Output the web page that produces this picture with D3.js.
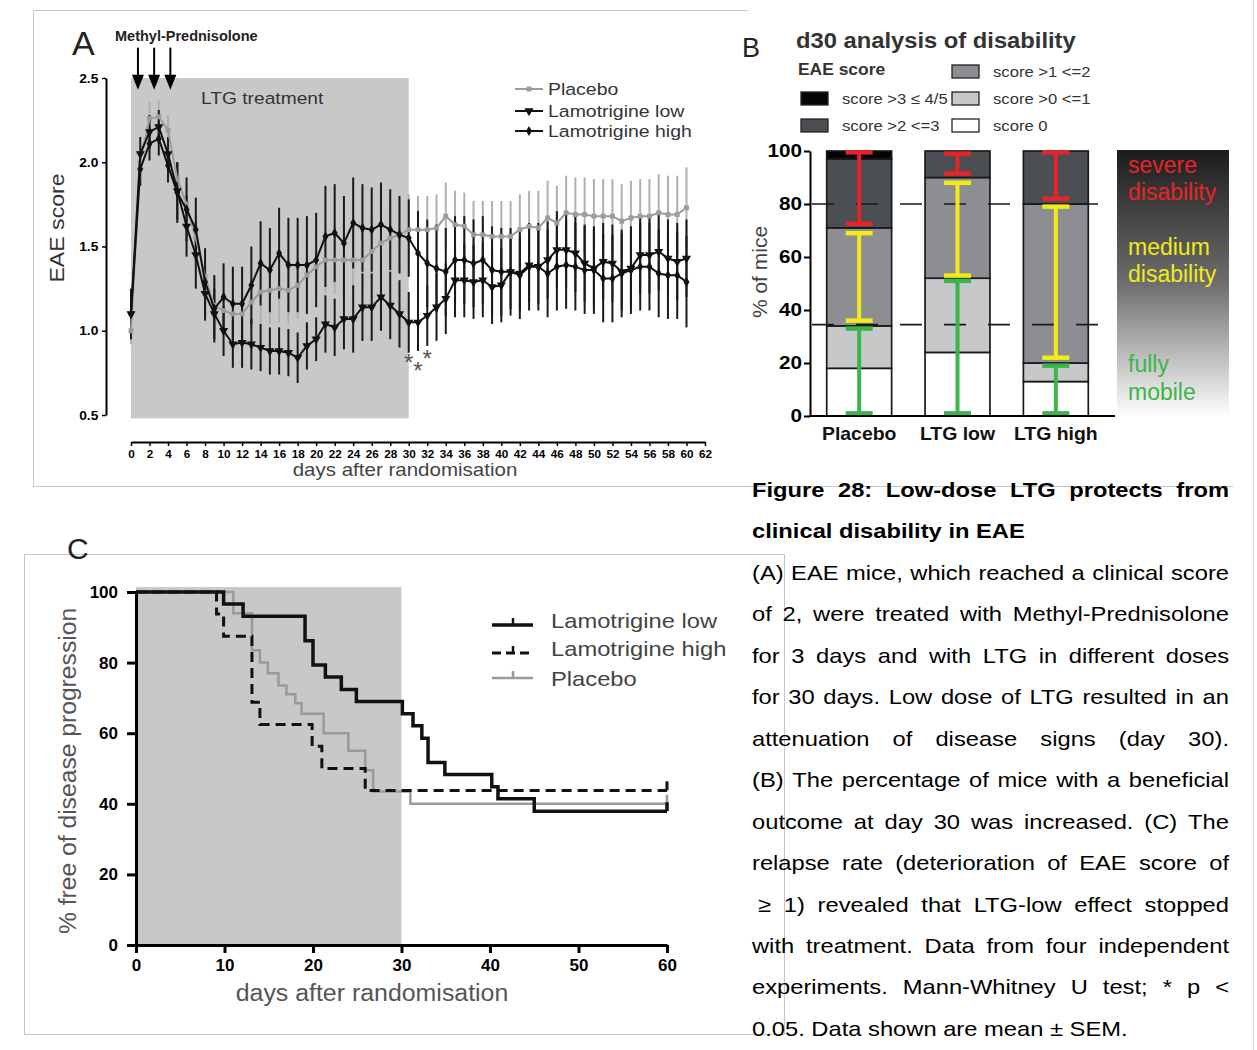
<!DOCTYPE html>
<html>
<head>
<meta charset="utf-8">
<script src="https://cdnjs.cloudflare.com/ajax/libs/d3/7.8.5/d3.min.js"></script>
<style>
body { margin: 0; background: #fff; }
svg { display: block; font-family: "Liberation Sans", Arial, Helvetica, sans-serif; }
</style>
</head>
<body>
<svg id="fig" width="1257" height="1050"></svg>
<script>
// ---------- panel A: mean EAE score per day ----------
var daysA = [0,1,2,3,4,5,6,7,8,9,10,11,12,13,14,15,16,17,18,19,20,21,22,23,24,25,26,27,28,29,30,
             31,32,33,34,35,36,37,38,39,40,41,42,43,44,45,46,47,48,49,50,51,52,53,54,55,56,57,58,59,60];
var placeboMean = [1.00,2.00,2.26,2.27,2.19,1.90,1.75,1.55,1.32,1.15,1.12,1.10,1.10,1.17,1.23,1.24,1.25,1.24,1.27,1.33,1.38,
                   1.42,1.42,1.42,1.42,1.42,1.47,1.52,1.55,1.57,1.60,1.60,1.60,1.61,1.68,1.63,1.62,1.57,1.57,1.56,1.56,
                   1.56,1.60,1.62,1.61,1.67,1.64,1.70,1.69,1.69,1.68,1.68,1.68,1.65,1.67,1.68,1.68,1.70,1.69,1.69,1.73];
var placeboErr  = [0.08,0.07,0.10,0.10,0.09,0.10,0.12,0.14,0.15,0.16,0.16,0.17,0.17,0.18,0.19,0.20,0.20,0.20,0.20,0.20,0.20,
                   0.20,0.20,0.20,0.20,0.20,0.21,0.21,0.21,0.21,0.21,0.20,0.20,0.20,0.20,0.20,0.20,0.20,0.20,0.21,0.21,
                   0.21,0.21,0.21,0.22,0.22,0.22,0.22,0.22,0.22,0.22,0.22,0.22,0.22,0.22,0.22,0.22,0.23,0.23,0.23,0.24];
var lowMean = [1.10,2.05,2.18,2.21,2.05,1.83,1.62,1.45,1.22,1.10,1.00,0.92,0.93,0.92,0.90,0.88,0.88,0.87,0.84,0.91,0.95,
               1.04,1.02,1.07,1.07,1.14,1.14,1.20,1.15,1.10,1.05,1.05,1.09,1.14,1.19,1.30,1.30,1.29,1.30,1.26,1.27,
               1.35,1.34,1.39,1.38,1.42,1.48,1.48,1.46,1.40,1.37,1.41,1.40,1.35,1.37,1.45,1.45,1.47,1.43,1.41,1.43];
var lowErr  = [0.12,0.10,0.10,0.10,0.10,0.17,0.18,0.20,0.16,0.15,0.15,0.14,0.15,0.15,0.14,0.14,0.14,0.14,0.15,0.14,0.13,
               0.17,0.17,0.18,0.20,0.20,0.20,0.20,0.20,0.20,0.18,0.17,0.18,0.20,0.21,0.22,0.22,0.22,0.22,0.22,0.22,
               0.22,0.22,0.22,0.22,0.23,0.23,0.23,0.23,0.23,0.23,0.23,0.23,0.23,0.23,0.23,0.23,0.23,0.23,0.23,0.23];
var highMean = [1.10,1.96,2.11,2.14,1.98,1.82,1.72,1.60,1.29,1.13,1.20,1.16,1.16,1.27,1.40,1.36,1.46,1.39,1.39,1.39,1.42,
                1.56,1.58,1.52,1.64,1.61,1.60,1.63,1.60,1.57,1.55,1.46,1.40,1.37,1.35,1.42,1.42,1.40,1.42,1.36,1.35,
                1.35,1.33,1.38,1.38,1.34,1.38,1.39,1.38,1.36,1.36,1.31,1.31,1.34,1.36,1.38,1.38,1.34,1.33,1.33,1.29];
var highErr  = [0.15,0.10,0.10,0.10,0.10,0.18,0.19,0.19,0.20,0.20,0.20,0.22,0.22,0.23,0.25,0.25,0.27,0.28,0.28,0.29,0.28,
                0.30,0.29,0.28,0.27,0.26,0.25,0.25,0.24,0.23,0.23,0.25,0.26,0.26,0.26,0.26,0.26,0.26,0.26,0.26,0.26,
                0.26,0.26,0.26,0.26,0.26,0.26,0.26,0.26,0.26,0.26,0.26,0.26,0.26,0.26,0.26,0.26,0.26,0.26,0.26,0.27];
var xTicksA = [0,2,4,6,8,10,12,14,16,18,20,22,24,26,28,30,32,34,36,38,40,42,44,46,48,50,52,54,56,58,60,62];
var yTicksA = [0.5,1.0,1.5,2.0,2.5];
var arrowDays = [0.75, 2.5, 4.25];
var starDays = [30, 31, 32];
var starScores = [0.84, 0.79, 0.86];

// ---------- panel B: d30 disability, % of mice ----------
var groupsB = ['Placebo', 'LTG low', 'LTG high'];
var score0   = [18, 24, 13];
var score0to1 = [16, 28, 7];
var score1to2 = [37, 38, 60];
var score2to3 = [26, 10, 20];
var score3up  = [3, 0, 0];
var legendB = ['score 0', 'score >0 <=1', 'score >1 <=2', 'score >2 <=3', 'score >3 \u2264 4/5'];
var greenLo = [1, 1, 1],       greenHi = [33, 51, 19];
var yellowLo = [36, 53, 22],   yellowHi = [69, 88, 79];
var redLo = [72.5, 91.5, 82],  redHi = [99.5, 99, 99.5];
var refLinesB = [80, 34.5];
var yTicksB = [0, 20, 40, 60, 80, 100];

// ---------- panel C: Kaplan-Meier, % free of progression ----------
var kmLowDay  = [0, 9.9, 12.1, 19.1, 20.0, 21.4, 23.2, 24.9, 30.1, 31.3, 32.3, 33.0, 34.9, 40.2, 40.9, 45.0, 60];
var kmLowPct  = [100, 96.6, 93.1, 86.2, 79.3, 75.9, 72.4, 69.0, 65.5, 62.1, 58.6, 51.7, 48.3, 44.8, 41.4, 37.9, 37.9];
var kmHighDay = [0, 9.1, 9.9, 13.1, 14.0, 19.9, 21.0, 25.9, 60];
var kmHighPct = [100, 93.8, 87.5, 68.8, 62.5, 56.3, 50.0, 43.8, 43.8];
var kmPlacDay = [0, 11.0, 13.1, 14.0, 14.9, 16.1, 17.0, 18.0, 18.7, 21.2, 24.0, 25.9, 26.8, 31.0, 60];
var kmPlacPct = [100, 94, 83.5, 80, 77, 73.5, 71, 68.5, 65.5, 60, 55, 49.5, 43.5, 40, 40];
var xTicksC = [0, 10, 20, 30, 40, 50, 60];
var yTicksC = [0, 20, 40, 60, 80, 100];

// ---------- caption ----------
var captionLines = [
    'Figure 28: Low-dose LTG protects from',
    'clinical disability in EAE',
    '(A) EAE mice, which reached a clinical score',
    'of 2, were treated with Methyl-Prednisolone',
    'for 3 days and with LTG in different doses',
    'for 30 days. Low dose of LTG resulted in an',
    'attenuation of disease signs (day 30).',
    '(B) The percentage of mice with a beneficial',
    'outcome at day 30 was increased. (C) The',
    'relapse rate (deterioration of EAE score of',
    '\u2265 1) revealed that LTG-low effect stopped',
    'with treatment. Data from four independent',
    'experiments. Mann-Whitney U test; * p <',
    '0.05. Data shown are mean \u00b1 SEM.'
];

var svg = d3.select('#fig');
svg.append('rect').attr('width', 1257).attr('height', 1050).attr('fill', '#fff');

// text helper: the source picture is slightly wider than it is tall, so texts get a horizontal stretch
function label(parent, x, y, str, o) {
    o = o || {};
    var tf = 'translate(' + x + ',' + y + ')';
    if (o.rotate) tf += ' rotate(' + o.rotate + ')';
    if (o.sx && o.sx !== 1) tf += ' scale(' + o.sx + ',1)';
    return parent.append('text')
        .attr('transform', tf)
        .attr('text-anchor', o.anchor || 'start')
        .attr('fill', o.fill || '#000')
        .style('font-size', (o.size || 14) + 'px')
        .style('font-weight', o.bold ? 'bold' : 'normal')
        .text(str);
}

function styleAxis(g, lineW, tickW, fontSize, sx) {
    g.select('.domain').attr('stroke', '#000').attr('stroke-width', lineW);
    g.selectAll('.tick line').attr('stroke', '#000').attr('stroke-width', tickW);
    g.selectAll('.tick text')
        .attr('fill', '#000')
        .style('font-size', fontSize + 'px')
        .style('font-weight', 'bold')
        .style('font-family', '"Liberation Sans", Arial, sans-serif')
        .attr('transform', 'scale(' + sx + ',1)');
}

// ---------- frames ----------
var frames = svg.append('g').attr('fill', 'none').attr('stroke', '#c6c6c6').attr('stroke-width', 1);
frames.append('path').attr('d', 'M33.5,487 V10.5 H748');
frames.append('line').attr('x1', 33).attr('x2', 1233).attr('y1', 486.5).attr('y2', 486.5);
frames.append('rect').attr('x', 24.5).attr('y', 554.5).attr('width', 760).attr('height', 480);
frames.append('line').attr('x1', 1253.5).attr('x2', 1253.5).attr('y1', 0).attr('y2', 1050).attr('stroke', '#dcdcdc');

// =====================================================================
// Panel A
// =====================================================================
var xA = d3.scaleLinear().domain([0, 62]).range([131, 705]);
var yA = d3.scaleLinear().domain([0.5, 2.5]).range([415, 78]);
var gA = svg.append('g');

gA.append('rect')
    .attr('x', xA(0)).attr('y', yA(2.5))
    .attr('width', xA(30) - xA(0)).attr('height', yA(0.48) - yA(2.5))
    .attr('fill', '#c8c8c8');

var yAxisA = gA.append('g').attr('transform', 'translate(106,0)')
    .call(d3.axisLeft(yA).tickValues(yTicksA).tickFormat(d3.format('.1f')).tickSize(4).tickSizeOuter(0).tickPadding(3));
styleAxis(yAxisA, 2, 1.5, 12.5, 1.1);

var xAxisA = gA.append('g').attr('transform', 'translate(0,442)')
    .call(d3.axisBottom(xA).tickValues(xTicksA).tickSize(4).tickSizeOuter(0).tickPadding(4));
styleAxis(xAxisA, 2, 1.5, 11.5, 1.02);

var seriesA = [
    {name: 'Placebo', mean: placeboMean, err: placeboErr, color: '#9c9c9c', barColor: '#b0b0b0', sym: d3.symbolSquare, size: 24, rot: 0},
    {name: 'Lamotrigine low', mean: lowMean, err: lowErr, color: '#111', barColor: '#1a1a1a', sym: d3.symbolTriangle, size: 36, rot: 180},
    {name: 'Lamotrigine high', mean: highMean, err: highErr, color: '#111', barColor: '#1a1a1a', sym: d3.symbolDiamond, size: 30, rot: 0}
];

seriesA.forEach(function(s) {
    var pts = daysA.map(function(d, i) { return {day: d, v: s.mean[i], e: s.err[i]}; });
    gA.append('g').selectAll('line').data(pts).enter().append('line')
        .attr('x1', function(d) { return xA(d.day); })
        .attr('x2', function(d) { return xA(d.day); })
        .attr('y1', function(d) { return yA(d.v - d.e); })
        .attr('y2', function(d) { return yA(d.v + d.e); })
        .attr('stroke', s.barColor).attr('stroke-width', 2);
});

var lineA = d3.line().x(function(d) { return xA(d.day); }).y(function(d) { return yA(d.v); });
seriesA.forEach(function(s) {
    var pts = daysA.map(function(d, i) { return {day: d, v: s.mean[i]}; });
    gA.append('path').datum(pts)
        .attr('d', lineA).attr('fill', 'none')
        .attr('stroke', s.color).attr('stroke-width', 2);
    gA.append('g').selectAll('path').data(pts).enter().append('path')
        .attr('d', d3.symbol().type(s.sym).size(s.size))
        .attr('transform', function(d) {
            return 'translate(' + [xA(d.day), yA(d.v)] + ') rotate(' + s.rot + ')';
        })
        .attr('fill', s.color);
});

// methyl-prednisolone arrows
arrowDays.forEach(function(d) {
    var x = xA(d);
    gA.append('line').attr('x1', x).attr('x2', x).attr('y1', yA(2.68)).attr('y2', yA(2.5))
        .attr('stroke', '#000').attr('stroke-width', 2);
    gA.append('path')
        .attr('d', 'M' + (x - 6) + ',' + yA(2.52) + 'L' + (x + 6) + ',' + yA(2.52) + 'L' + x + ',' + yA(2.43) + 'Z')
        .attr('fill', '#000');
});

// significance stars
starDays.forEach(function(d, i) {
    label(gA, xA(d), yA(starScores[i]) + 13, '*', {size: 24, anchor: 'middle', fill: '#555'});
});

label(gA, 72, 55, 'A', {size: 34, fill: '#222'});
label(gA, 115, 41, 'Methyl-Prednisolone', {size: 14.5, bold: true, fill: '#222'});
label(gA, 201, 104, 'LTG treatment', {size: 17, sx: 1.13, fill: '#333'});
label(gA, 64, 228, 'EAE score', {size: 21, sx: 1.1, rotate: -90, anchor: 'middle', fill: '#333'});
label(gA, 405, 476, 'days after randomisation', {size: 18, sx: 1.14, anchor: 'middle', fill: '#444'});

// legend A
var legA = gA.append('g');
seriesA.forEach(function(s, i) {
    var y = [89, 111, 131][i];
    legA.append('line').attr('x1', 515).attr('x2', 543).attr('y1', y).attr('y2', y)
        .attr('stroke', s.color).attr('stroke-width', 2);
    legA.append('path').attr('d', d3.symbol().type(s.sym).size(s.size))
        .attr('transform', 'translate(529,' + y + ') rotate(' + s.rot + ')')
        .attr('fill', s.color);
    label(legA, 548, y + 6, s.name, {size: 16.5, sx: 1.18, fill: '#333'});
});

// =====================================================================
// Panel B
// =====================================================================
var yB = d3.scaleLinear().domain([0, 100]).range([416, 151]);
var xB = d3.scaleBand().domain(groupsB).range([810, 1105]).paddingInner(0.34).paddingOuter(0.17);
var gB = svg.append('g');
var segColors = ['#ffffff', '#c6c8ca', '#8d8e92', '#4b4e53', '#050505'];
var segKeys = ['s0', 's1', 's2', 's3', 's4'];

var tableB = groupsB.map(function(g, i) {
    return {group: g, s0: score0[i], s1: score0to1[i], s2: score1to2[i], s3: score2to3[i], s4: score3up[i]};
});
var stackedB = d3.stack().keys(segKeys)(tableB);

stackedB.forEach(function(layer, k) {
    gB.append('g').selectAll('rect').data(layer).enter().append('rect')
        .attr('x', function(d) { return xB(d.data.group); })
        .attr('width', xB.bandwidth())
        .attr('y', function(d) { return yB(d[1]); })
        .attr('height', function(d) { return yB(d[0]) - yB(d[1]); })
        .attr('fill', segColors[k])
        .attr('stroke', '#1a1a1a').attr('stroke-width', function(d) { return d[1] > d[0] ? 1.7 : 0; });
});

// dashed reference lines
refLinesB.forEach(function(v) {
    gB.append('line').attr('x1', 812).attr('x2', 1116).attr('y1', yB(v)).attr('y2', yB(v))
        .attr('stroke', '#1a1a1a').attr('stroke-width', 1.6).attr('stroke-dasharray', '22 22');
});

// coloured range brackets
var brackets = [
    {lo: greenLo, hi: greenHi, color: '#39b54a'},
    {lo: yellowLo, hi: yellowHi, color: '#f3ea1a'},
    {lo: redLo, hi: redHi, color: '#e8242a'}
];
brackets.forEach(function(b) {
    groupsB.forEach(function(g, i) {
        var cx = xB(g) + xB.bandwidth() / 2;
        var bg = gB.append('g').attr('stroke', b.color);
        bg.append('line').attr('x1', cx).attr('x2', cx).attr('y1', yB(b.lo[i])).attr('y2', yB(b.hi[i]))
            .attr('stroke-width', 4);
        [b.lo[i], b.hi[i]].forEach(function(v) {
            bg.append('line').attr('x1', cx - 13.5).attr('x2', cx + 13.5).attr('y1', yB(v)).attr('y2', yB(v))
                .attr('stroke-width', 4.5);
        });
    });
});

var yAxisB = gB.append('g').attr('transform', 'translate(810,0)')
    .call(d3.axisLeft(yB).tickValues(yTicksB).tickSize(6).tickSizeOuter(0).tickPadding(1));
styleAxis(yAxisB, 2, 2, 18, 1.15);
gB.append('line').attr('x1', 809).attr('x2', 1115).attr('y1', yB(0)).attr('y2', yB(0))
    .attr('stroke', '#000').attr('stroke-width', 2);

groupsB.forEach(function(g) {
    label(gB, xB(g) + xB.bandwidth() / 2, 440, g, {size: 18, bold: true, sx: 1.08, anchor: 'middle', fill: '#111'});
});
label(gB, 767, 272, '% of mice', {size: 21, rotate: -90, anchor: 'middle', fill: '#444'});

// gradient severity box
var grad = svg.append('defs').append('linearGradient').attr('id', 'sevGrad')
    .attr('x1', 0).attr('y1', 0).attr('x2', 0).attr('y2', 1);
grad.append('stop').attr('offset', '0%').attr('stop-color', '#1c1c1c');
grad.append('stop').attr('offset', '50%').attr('stop-color', '#6e6e6e');
grad.append('stop').attr('offset', '100%').attr('stop-color', '#ffffff');
gB.append('rect').attr('x', 1117).attr('y', yB(100) - 1).attr('width', 112).attr('height', yB(0) - yB(100) + 2)
    .attr('fill', 'url(#sevGrad)');
[['severe', 173, '#e8242a'], ['disability', 200, '#e8242a'],
 ['medium', 255, '#f3ea1a'], ['disability', 282, '#f3ea1a'],
 ['fully', 372, '#3bb54a'], ['mobile', 400, '#3bb54a']].forEach(function(t) {
    label(gB, 1128, t[1], t[0], {size: 23, fill: t[2]});
});

label(gB, 742, 57, 'B', {size: 27, fill: '#222'});
label(gB, 796, 48, 'd30 analysis of disability', {size: 22, bold: true, sx: 1.08, fill: '#333'});
label(gB, 798, 75, 'EAE score', {size: 16, bold: true, sx: 1.09, fill: '#333'});

// legend B: [segment index, column, row]
var legendPosB = [[2, 1, 0], [4, 0, 1], [1, 1, 1], [3, 0, 2], [0, 1, 2]];
legendPosB.forEach(function(p) {
    var bx = [801, 952][p[1]];
    var by = [65, 92, 119][p[2]];
    gB.append('rect').attr('x', bx).attr('y', by).attr('width', 27).attr('height', 13)
        .attr('fill', segColors[p[0]]).attr('stroke', '#222').attr('stroke-width', 1.3);
    label(gB, bx + 41, by + 12, legendB[p[0]], {size: 15, sx: 1.11, fill: '#333'});
});

// =====================================================================
// Panel C
// =====================================================================
var xC = d3.scaleLinear().domain([0, 60]).range([136, 667]);
var yC = d3.scaleLinear().domain([0, 100]).range([945, 592]);
var gC = svg.append('g');

gC.append('rect').attr('x', xC(0)).attr('y', yC(101.4))
    .attr('width', xC(30) - xC(0)).attr('height', yC(0) - yC(101.4))
    .attr('fill', '#c8c8ca');

var kmSeries = [
    {name: 'Placebo', day: kmPlacDay, pct: kmPlacPct, color: '#9a9a9a', width: 2.5, dash: null},
    {name: 'Lamotrigine high', day: kmHighDay, pct: kmHighPct, color: '#111', width: 3, dash: '10 6'},
    {name: 'Lamotrigine low', day: kmLowDay, pct: kmLowPct, color: '#111', width: 3.5, dash: null}
];
var stepLine = d3.line().curve(d3.curveStepAfter)
    .x(function(d) { return xC(d.day); }).y(function(d) { return yC(d.pct); });

kmSeries.forEach(function(s) {
    var pts = s.day.map(function(d, i) { return {day: d, pct: s.pct[i]}; });
    gC.append('path').datum(pts).attr('d', stepLine).attr('fill', 'none')
        .attr('stroke', s.color).attr('stroke-width', s.width)
        .attr('stroke-dasharray', s.dash);
    var last = pts[pts.length - 1];
    gC.append('line').attr('x1', xC(last.day)).attr('x2', xC(last.day))
        .attr('y1', yC(last.pct)).attr('y2', yC(last.pct) - 9)
        .attr('stroke', s.color).attr('stroke-width', s.width);
});

var yAxisC = gC.append('g').attr('transform', 'translate(136,0)')
    .call(d3.axisLeft(yC).tickValues(yTicksC).tickSize(9).tickSizeOuter(0).tickPadding(9));
styleAxis(yAxisC, 3, 3, 17, 1.0);
var xAxisC = gC.append('g').attr('transform', 'translate(0,945)')
    .call(d3.axisBottom(xC).tickValues(xTicksC).tickSize(8).tickSizeOuter(0).tickPadding(6));
styleAxis(xAxisC, 3, 3, 17, 1.0);

label(gC, 67, 559, 'C', {size: 30, fill: '#222'});
label(gC, 76, 771, '% free of disease progression', {size: 23.5, sx: 1.05, rotate: -90, anchor: 'middle', fill: '#555'});
label(gC, 372, 1001, 'days after randomisation', {size: 23.5, sx: 1.06, anchor: 'middle', fill: '#555'});

// legend C (low, high, placebo order)
var legC = gC.append('g');
[[kmSeries[2], 625, 628], [kmSeries[1], 653, 656], [kmSeries[0], 678, 686]].forEach(function(e) {
    var s = e[0], y = e[1];
    legC.append('line').attr('x1', 492).attr('x2', 533).attr('y1', y).attr('y2', y)
        .attr('stroke', s.color).attr('stroke-width', s.width).attr('stroke-dasharray', s.dash ? '9 5' : null);
    legC.append('line').attr('x1', 513).attr('x2', 513).attr('y1', y).attr('y2', y - 7)
        .attr('stroke', s.color).attr('stroke-width', Math.min(s.width, 2.5));
    label(legC, 551, e[2], s.name, {size: 21, sx: 1.13, fill: '#444'});
});

// =====================================================================
// Caption (justified block)
// =====================================================================
var capLeft = 752, capRight = 1229, capSx = 1.13, capSize = 21;
var capFirst = 497, capGap = 41.45;
var boldLines = [0, 1];
var leftLines = [1, 13];
captionLines.forEach(function(line, i) {
    var indent = (i === 10) ? 6 : 0;
    var g = svg.append('g')
        .attr('transform', 'translate(' + (capLeft + indent) + ',' + (capFirst + i * capGap) + ') scale(' + capSx + ',1)');
    var words = line.split(' ');
    var nodes = words.map(function(w) {
        return g.append('text')
            .style('font-size', capSize + 'px')
            .style('font-weight', boldLines.indexOf(i) >= 0 ? 'bold' : 'normal')
            .attr('fill', '#000')
            .text(w);
    });
    var widths = nodes.map(function(n) { return n.node().getComputedTextLength(); });
    var total = d3.sum(widths);
    var avail = (capRight - capLeft - indent) / capSx;
    var gap = capSize * 0.278;
    if (leftLines.indexOf(i) < 0 && words.length > 1) gap = (avail - total) / (words.length - 1);
    var x = 0;
    nodes.forEach(function(n, k) {
        n.attr('x', x);
        x += widths[k] + gap;
    });
});
</script>
</body>
</html>
